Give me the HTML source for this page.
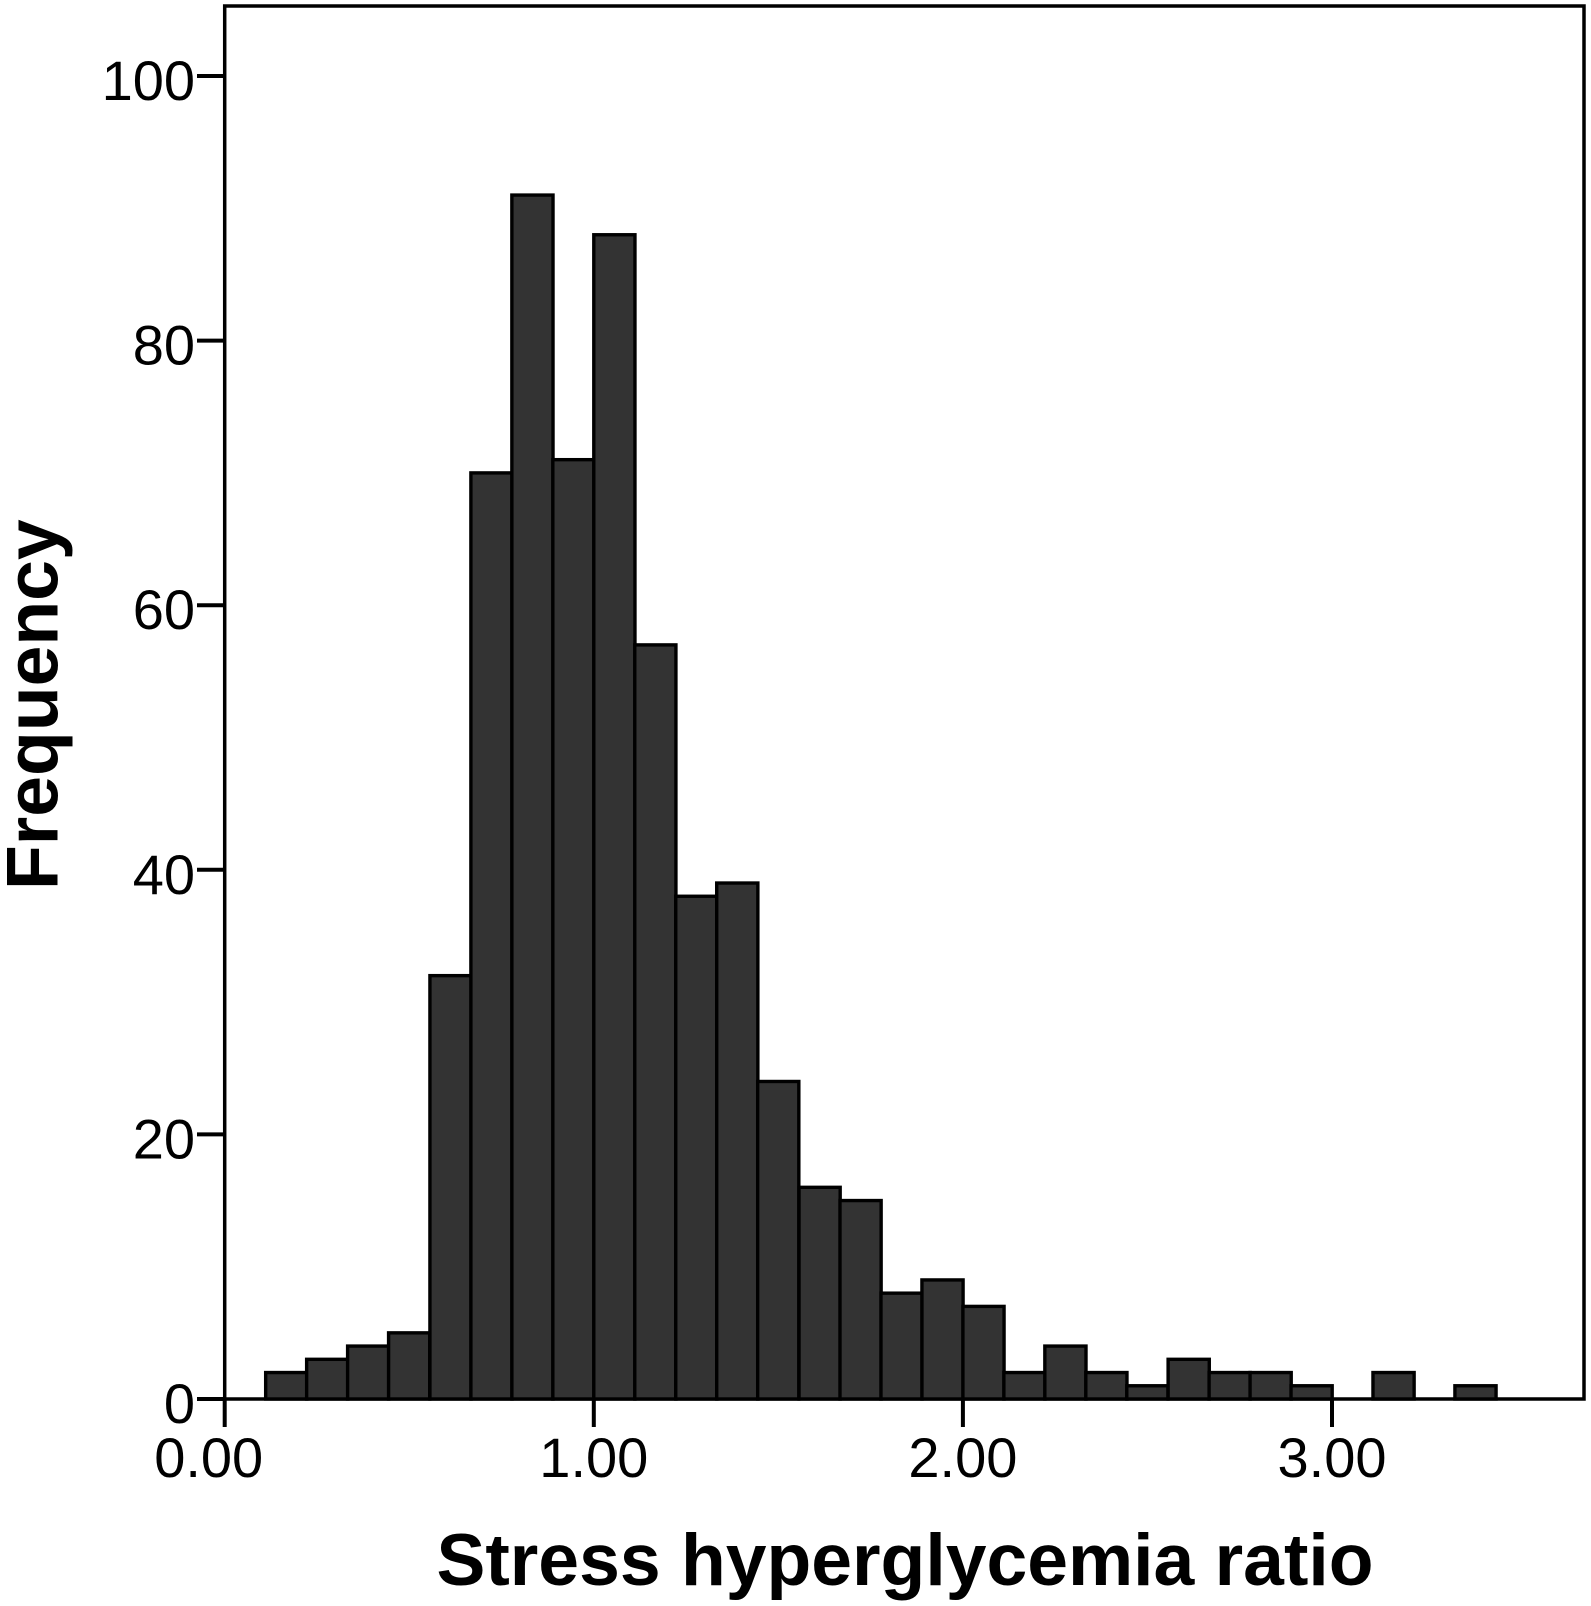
<!DOCTYPE html>
<html lang="en">
<head>
<meta charset="utf-8">
<title>Stress hyperglycemia ratio histogram</title>
<style>
html,body{margin:0;padding:0;background:#fff;width:1591px;height:1606px;overflow:hidden}
svg{display:block;font-family:"Liberation Sans",Arial,sans-serif}
</style>
</head>
<body>
<svg id="chart" xmlns="http://www.w3.org/2000/svg" width="1591" height="1606" viewBox="0 0 1591 1606">
  <rect x="0" y="0" width="1591" height="1606" fill="#ffffff"></rect>
  <rect x="224.7" y="6" width="1359.3" height="1393" fill="none" stroke="#000" stroke-width="3.5"></rect>
  <g id="bars"></g>
  <g id="yaxis"></g>
  <g id="xaxis"></g>
  <text x="905" y="1585" text-anchor="middle" font-size="73.3" font-weight="700" fill="#000">Stress hyperglycemia ratio</text>
  <text transform="translate(57.5,890) rotate(-90)" x="0" y="0" font-size="73.3" font-weight="700" fill="#000">Frequency</text>
</svg>
<script>
const binStarts = [0.111,0.222,0.333,0.444,0.556,0.667,0.778,0.889,1.000,1.111,1.222,1.333,1.444,1.556,1.667,1.778,1.889,2.000,2.111,2.222,2.333,2.444,2.556,2.667,2.778,2.889,3.000,3.111,3.222,3.333];
const frequencies = [2,3,4,5,32,70,91,71,88,57,38,39,24,16,15,8,9,7,2,4,2,1,3,2,2,1,0,2,0,1];
const binWidth = 0.1115;
const yTicks = [0,20,40,60,80,100];
const xTicks = [0,1,2,3];
const xTickLabels = ['0.00','1.00','2.00','3.00'];

const SVG_NS = 'http://www.w3.org/2000/svg';
function xScale(v){ return 224.7 + v * 369.1; }
function yScale(v){ return 1399 - v * 13.23; }
function make(tag, attrs){
  const el = document.createElementNS(SVG_NS, tag);
  for (const k in attrs) el.setAttribute(k, attrs[k]);
  return el;
}

const barsGroup = document.getElementById('bars');
frequencies.forEach(function(count, i){
  if (count <= 0) return;
  const x0 = xScale(binStarts[i]);
  const x1 = xScale(binStarts[i] + binWidth);
  const rect = make('rect', {x: x0, y: yScale(count), width: x1 - x0, height: yScale(0) - yScale(count), fill: '#333333', stroke: '#000', 'stroke-width': 3.4});
  
  
  barsGroup.appendChild(rect);
});

const yAxisGroup = document.getElementById('yaxis');
yTicks.forEach(function(t){
  const y = yScale(t);
  const tick = make('line', {x1: 197, x2: 224.7, y1: y, y2: y, stroke: '#000', 'stroke-width': 4});
  
  
  yAxisGroup.appendChild(tick);
  const label = make('text', {x: 195, y: y + 24, 'text-anchor': 'end', 'font-size': 56, fill: '#000'});
  
  
  label.textContent = String(t);
  yAxisGroup.appendChild(label);
});

const xAxisGroup = document.getElementById('xaxis');
xTicks.forEach(function(t, i){
  const x = xScale(t);
  const tick = make('line', {x1: x, x2: x, y1: 1399, y2: 1427, stroke: '#000', 'stroke-width': 4});
  
  
  xAxisGroup.appendChild(tick);
  const label = make('text', {x: i === 0 ? x - 16 : x, y: 1477, 'text-anchor': 'middle', 'font-size': 56, fill: '#000'});
  
  
  label.textContent = xTickLabels[i];
  xAxisGroup.appendChild(label);
});
</script>
</body>
</html>
